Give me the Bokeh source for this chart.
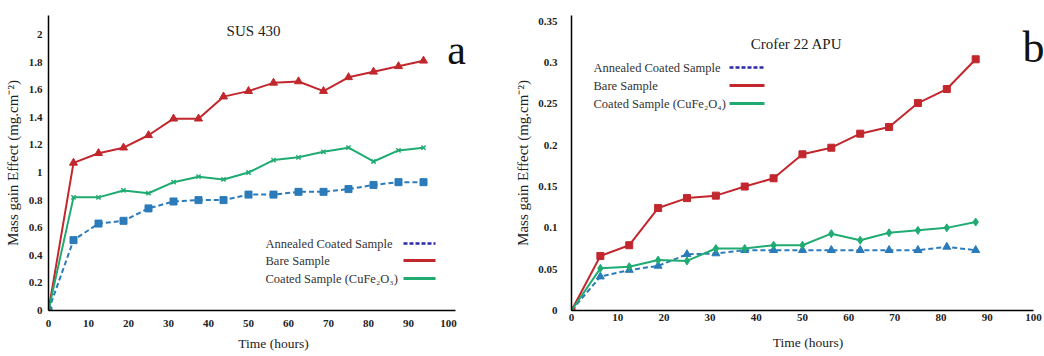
from bokeh.plotting import figure
from bokeh.models import Range1d, Label, Arrow, CustomJSTickFormatter, FixedTicker
from bokeh.layouts import row
from bokeh.embed import file_html
from bokeh.resources import INLINE

# ---------------- data ----------------
hours_a = [0, 6.25, 12.5, 18.75, 25, 31.25, 37.5, 43.75, 50, 56.25, 62.5, 68.75, 75, 81.25, 87.5, 93.75]
bare_a = [0, 1.07, 1.14, 1.18, 1.27, 1.39, 1.39, 1.55, 1.59, 1.65, 1.66, 1.59, 1.69, 1.73, 1.77, 1.81]
coated_a = [0, 0.82, 0.82, 0.87, 0.85, 0.93, 0.97, 0.95, 1.00, 1.09, 1.11, 1.15, 1.18, 1.08, 1.16, 1.18]
annealed_a = [0, 0.51, 0.63, 0.65, 0.74, 0.79, 0.80, 0.80, 0.84, 0.84, 0.86, 0.86, 0.88, 0.91, 0.93, 0.93]

hours_b = [0, 6.25, 12.5, 18.75, 25, 31.25, 37.5, 43.75, 50, 56.25, 62.5, 68.75, 75, 81.25, 87.5]
bare_b = [0, 0.066, 0.079, 0.124, 0.136, 0.139, 0.150, 0.160, 0.189, 0.197, 0.214, 0.222, 0.251, 0.268, 0.304]
coated_b = [0, 0.051, 0.053, 0.061, 0.060, 0.075, 0.075, 0.079, 0.079, 0.093, 0.085, 0.094, 0.097, 0.100, 0.107]
annealed_b = [0, 0.041, 0.049, 0.054, 0.068, 0.069, 0.073, 0.073, 0.073, 0.073, 0.073, 0.073, 0.073, 0.077, 0.073]

x_ticks = [0, 10, 20, 30, 40, 50, 60, 70, 80, 90, 100]
y_ticks_a = [0, 0.2, 0.4, 0.6, 0.8, 1, 1.2, 1.4, 1.6, 1.8, 2]
y_ticks_b = [0, 0.05, 0.1, 0.15, 0.2, 0.25, 0.3, 0.35]

series_names = ["Annealed Coated Sample", "Bare Sample"]
coated_name_a = "Coated Sample (CuFe\u2082O\u2083)"
coated_name_b = "Coated Sample (CuFe\u2082O\u2084)"
titles = ["SUS 430", "Crofer 22 APU"]
panel_letters = ["a", "b"]
y_label = "Mass gain Effect (mg.cm\u207b\u00b2)"
x_label = "Time (hours)"

# ---------------- style ----------------
RED = "#c1272d"
GREEN = "#20ab72"
BLUE = "#2b7bba"
KEY_BLUE = "#2a2aa8"
SERIF = "Liberation Serif"

fmt_code = "return tick.toFixed(2).replace(/\\.?0+$/, '');"


def style(p, yticks, xbounds, ylab_standoff, ymaj_standoff, xmaj_standoff, xlab_standoff):
    p.outline_line_color = None
    p.xgrid.visible = False
    p.ygrid.visible = False
    p.background_fill_color = "white"
    p.border_fill_color = "white"
    for ax in (p.xaxis[0], p.yaxis[0]):
        ax.axis_line_color = "black"
        ax.axis_line_width = 1.5
        ax.major_tick_line_color = None
        ax.minor_tick_line_color = None
        ax.major_tick_out = 0
        ax.major_tick_in = 0
        ax.major_label_text_font = SERIF
        ax.major_label_text_font_style = "bold"
        ax.major_label_text_font_size = "11px"
        ax.major_label_text_color = "#222222"
        ax.axis_label_text_font = SERIF
        ax.axis_label_text_font_style = "normal"
        ax.axis_label_text_color = "#222222"
        ax.formatter = CustomJSTickFormatter(code=fmt_code)
    p.xaxis[0].axis_label_text_font_size = "13.5px"
    p.yaxis[0].axis_label_text_font_size = "15px"
    p.xaxis[0].ticker = FixedTicker(ticks=x_ticks)
    p.yaxis[0].ticker = FixedTicker(ticks=yticks)
    p.xaxis[0].bounds = xbounds
    p.xaxis[0].axis_label = x_label
    p.yaxis[0].axis_label = y_label
    p.yaxis[0].axis_label_standoff = ylab_standoff
    p.yaxis[0].major_label_standoff = ymaj_standoff
    p.xaxis[0].major_label_standoff = xmaj_standoff
    p.xaxis[0].axis_label_standoff = xlab_standoff


def add_legend(p, x_text, y_rows, x_key0, x_key1, names):
    colors = [KEY_BLUE, RED, GREEN]
    dashes = ["4 2", "solid", "solid"]
    widths = [2.5, 3, 3]
    for name, yy, c, d, w in zip(names, y_rows, colors, dashes, widths):
        p.add_layout(Label(x=x_text, y=yy, x_units="screen", y_units="screen", text=name,
                           text_font=SERIF, text_font_size="12.5px", text_color="#333333",
                           text_baseline="middle", text_align="left"))
        p.add_layout(Arrow(end=None, x_start=x_key0, y_start=yy, x_end=x_key1, y_end=yy,
                           start_units="screen", end_units="screen",
                           line_color=c, line_width=w, line_dash=d))


# ---------------- panel a ----------------
p1 = figure(width=512, height=356, x_range=Range1d(0, 112.5), y_range=Range1d(0, 2.138),
            output_backend="svg", toolbar_location=None,
            min_border_left=48, min_border_right=14, min_border_top=15, min_border_bottom=46)
style(p1, y_ticks_a, (0, 101.75), 5, 6, 9, 6)

p1.line(hours_a, annealed_a, line_color=BLUE, line_width=2, line_dash="5 3")
p1.scatter(hours_a, annealed_a, marker="square", size=7, color=BLUE)
p1.line(hours_a, bare_a, line_color=RED, line_width=2)
p1.scatter(hours_a, bare_a, marker="triangle", size=8, color=RED)
p1.line(hours_a, coated_a, line_color=GREEN, line_width=2)
p1.scatter(hours_a, coated_a, marker="x", size=6, line_color=GREEN, line_width=1.5)

p1.add_layout(Label(x=205, y=280, x_units="screen", y_units="screen", text=titles[0],
                    text_font=SERIF, text_font_size="15px", text_color="#222222",
                    text_align="center", text_baseline="middle"))
p1.add_layout(Label(x=408, y=261, x_units="screen", y_units="screen", text=panel_letters[0],
                    text_font=SERIF, text_font_size="42px", text_color="#111111",
                    text_align="center", text_baseline="middle"))
add_legend(p1, 217, [67, 50, 32], 355, 387, [series_names[0], series_names[1], coated_name_a])

# ---------------- panel b ----------------
p2 = figure(width=532, height=356, x_range=Range1d(0, 102.4), y_range=Range1d(0, 0.357),
            output_backend="svg", toolbar_location=None,
            min_border_left=55, min_border_right=0, min_border_top=15, min_border_bottom=46)
style(p2, y_ticks_b, (0, 100), 4, 14, 3, 11)

p2.line(hours_b, annealed_b, line_color=BLUE, line_width=2, line_dash="5 3")
p2.scatter(hours_b, annealed_b, marker="triangle", size=8, color=BLUE)
p2.line(hours_b, bare_b, line_color=RED, line_width=2)
p2.scatter(hours_b, bare_b, marker="square", size=7, color=RED)
p2.line(hours_b, coated_b, line_color=GREEN, line_width=2)
p2.scatter(hours_b, coated_b, marker="diamond", size=8, color=GREEN)

p2.add_layout(Label(x=225, y=267, x_units="screen", y_units="screen", text=titles[1],
                    text_font=SERIF, text_font_size="15px", text_color="#222222",
                    text_align="center", text_baseline="middle"))
p2.add_layout(Label(x=462, y=263, x_units="screen", y_units="screen", text=panel_letters[1],
                    text_font=SERIF, text_font_size="44px", text_color="#111111",
                    text_align="center", text_baseline="middle"))
add_legend(p2, 22, [243, 225, 207], 158, 193, [series_names[0], series_names[1], coated_name_b])

layout = row(p1, p2)
open("out.html", "w").write(file_html(layout, INLINE))
